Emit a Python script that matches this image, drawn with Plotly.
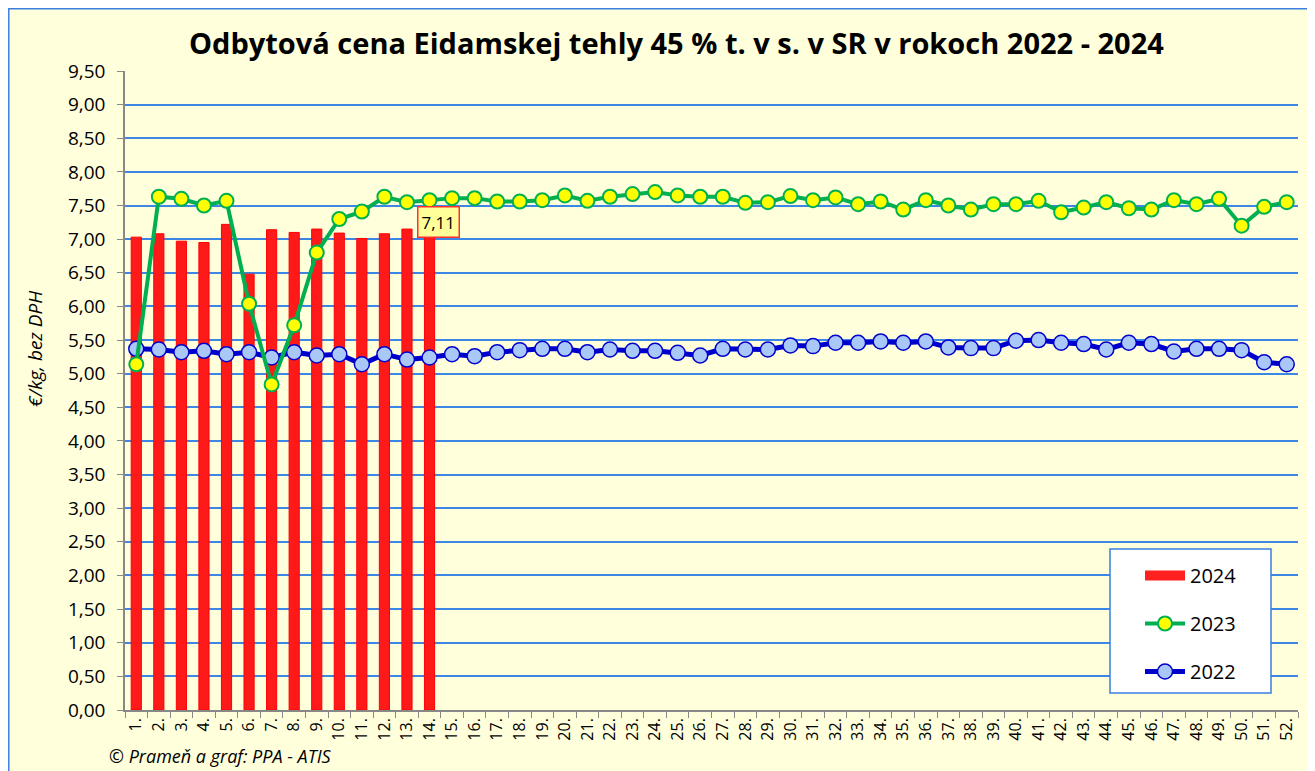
import plotly.graph_objects as go

weeks = [f"{i}." for i in range(1, 53)]

y2024 = [7.03, 7.08, 6.97, 6.95, 7.22, 6.48, 7.14, 7.10, 7.15, 7.09, 7.01, 7.08, 7.15, 7.11]

y2023 = [5.14, 7.63, 7.60, 7.50, 7.57, 6.04, 4.84, 5.72, 6.80, 7.30, 7.41, 7.63, 7.55, 7.58,
         7.61, 7.61, 7.56, 7.56, 7.58, 7.65, 7.57, 7.63, 7.67, 7.70, 7.65, 7.63, 7.63, 7.54,
         7.55, 7.64, 7.58, 7.62, 7.52, 7.56, 7.44, 7.58, 7.50, 7.44, 7.52, 7.52, 7.57, 7.40,
         7.47, 7.55, 7.46, 7.44, 7.58, 7.52, 7.60, 7.20, 7.48, 7.55]

y2022 = [5.37, 5.36, 5.32, 5.34, 5.29, 5.32, 5.24, 5.32, 5.27, 5.29, 5.14, 5.29, 5.21, 5.24,
         5.29, 5.26, 5.32, 5.35, 5.37, 5.37, 5.32, 5.36, 5.34, 5.34, 5.31, 5.27, 5.37, 5.36,
         5.36, 5.42, 5.41, 5.46, 5.46, 5.48, 5.46, 5.48, 5.39, 5.38, 5.38, 5.49, 5.50, 5.46,
         5.44, 5.36, 5.46, 5.44, 5.33, 5.37, 5.37, 5.35, 5.17, 5.14]

title_text = "Odbytová cena Eidamskej tehly 45 % t. v s. v SR v rokoch 2022 - 2024"
y_title = "€/kg, bez DPH"
source_text = "© Prameň a graf: PPA - ATIS"

FONT = "Open Sans"
BG = "#FFFFDC"
GRID = "#3C87E6"
BORDER = "#3A7FE0"

# page offset caused by the default body margin
OFF = 8
PW, PH = 1315, 771
W, H = PW - OFF, PH - OFF
# plot area in page pixels
L, R, T, B = 125, 1298, 71, 710
pw, ph = R - L, B - T


def px(x):
    return (x - L) / pw


def py(y):
    return (B - y) / ph


fig = go.Figure()

fig.add_trace(go.Bar(
    x=weeks[:len(y2024)], y=y2024, name="2024", width=0.45,
    marker=dict(color="#FF1A1A", line=dict(color="#FF0000", width=1)),
    showlegend=False,
))
# legend entry for the bars (wide red rectangle like the original)
fig.add_trace(go.Scatter(
    x=[None], y=[None], name="2024", mode="lines",
    line=dict(color="#FF2020", width=13),
    legendgroup="a", legendrank=1,
))
fig.add_trace(go.Scatter(
    x=weeks, y=y2022, name="2022", mode="lines+markers",
    line=dict(color="#0000CC", width=5),
    marker=dict(size=15, color="#A9C8F8", line=dict(color="#0000CC", width=1.5)),
    legendgroup="c", legendrank=3,
))
fig.add_trace(go.Scatter(
    x=weeks, y=y2023, name="2023", mode="lines+markers",
    line=dict(color="#00B050", width=4),
    marker=dict(size=14, color="#FFFF00", line=dict(color="#00B050", width=2)),
    legendgroup="b", legendrank=2,
))

# outer chart border / background
fig.add_shape(type="rect", xref="paper", yref="paper",
              x0=px(OFF + 0.8), x1=px(1340), y0=py(800), y1=py(OFF + 0.8),
              fillcolor=BG, line=dict(color=BORDER, width=1.5), layer="below")
# legend box
fig.add_shape(type="rect", xref="paper", yref="paper",
              x0=px(1110), x1=px(1271), y0=py(693), y1=py(549),
              fillcolor="white", line=dict(color=BORDER, width=1.5), layer="above")

# data label for the latest 2024 value (category index of the last bar)
last = len(y2024) - 1
fig.add_annotation(x=last, y=y2024[last], text=f"{y2024[last]:.2f}".replace(".", ","),
                   showarrow=False, xanchor="center", yanchor="middle", xshift=9, yshift=10,
                   font=dict(family=FONT, size=17, color="black"),
                   bgcolor="#FFFF99", bordercolor="#FF3030", borderwidth=1.5, borderpad=3)

fig.add_annotation(x=px(35), y=py(349), xref="paper", yref="paper", text=y_title,
                   textangle=-90, showarrow=False, xanchor="center", yanchor="middle",
                   font=dict(family=FONT, size=19, color="black", style="italic"))
fig.add_annotation(x=px(107), y=py(756), xref="paper", yref="paper", text=source_text,
                   xanchor="left", yanchor="middle", showarrow=False,
                   font=dict(family=FONT, size=18, color="black", style="italic"))
fig.add_annotation(x=px(676), y=py(42), xref="paper", yref="paper",
                   text=f"<b>{title_text}</b>", showarrow=False,
                   xanchor="center", yanchor="middle",
                   font=dict(family=FONT, size=29, color="black"))

fig.update_layout(
    width=W, height=H,
    margin=dict(l=L - OFF, r=PW - R, t=T - OFF, b=PH - B, autoexpand=False),
    paper_bgcolor="white", plot_bgcolor=BG,
    separators=",.",
    font=dict(family=FONT, color="black"),
    showlegend=True,
    legend=dict(x=px(1140), y=py(556), xanchor="left", yanchor="top",
                bgcolor="rgba(0,0,0,0)", borderwidth=0,
                font=dict(family=FONT, size=20, color="black"),
                tracegroupgap=19, itemwidth=40),
    bargap=0.55,
    xaxis=dict(type="category", range=[-0.5, 51.5], tickson="boundaries",
               ticks="outside", ticklen=6,
               tickcolor="#888888", showline=True, linecolor="#888888", linewidth=1.5,
               showgrid=False, tickangle=-90, tickfont=dict(family=FONT, size=16)),
    yaxis=dict(range=[0, 9.5], dtick=0.5, tickformat=".2f", ticks="outside", ticklen=6,
               tickcolor="#888888", showline=True, linecolor="#888888", linewidth=1.5,
               gridcolor=GRID, gridwidth=2, zeroline=False, ticklabelstandoff=8,
               tickfont=dict(family=FONT, size=19)),
)

fig.write_html("out.html")
